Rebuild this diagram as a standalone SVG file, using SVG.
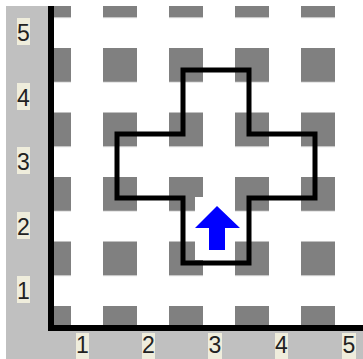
<svg xmlns="http://www.w3.org/2000/svg" width="363" height="359" viewBox="0 0 363 359">
<style>
.sq{fill:#808080}
.lbl{fill:#EFEDDC}
.t{font-family:"Liberation Sans",Arial,sans-serif;font-size:23px;fill:#222;text-anchor:middle}
.ax{stroke:#000;stroke-width:6;fill:none}
</style>
<defs>
<clipPath id="c"><rect x="51" y="6" width="312" height="322"/></clipPath>
<pattern id="p" x="37" y="-16.5" width="66" height="64.5" patternUnits="userSpaceOnUse">
<rect class="sq" x="0" y="0" width="34" height="34"/>
</pattern>
</defs>
<rect width="363" height="359" fill="#FFFFFF"/>
<rect x="6" y="6" width="45" height="353" fill="#C0C0C0"/>
<rect x="6" y="328" width="357" height="31" fill="#C0C0C0"/>
<g id="grid" clip-path="url(#c)">
<rect x="51" y="6" width="312" height="322" fill="url(#p)"/>
</g>
<g id="arrow-bg"><rect x="195" y="197" width="40" height="63" fill="#FFFFFF"/></g>
<g id="axes">
<path class="ax" d="M51,6 V328 H363"/>
</g>
<g id="y-labels">
<rect class="lbl" x="17" y="18" width="13" height="27"/><text class="t" x="23.5" y="41">5</text>
<rect class="lbl" x="17" y="83" width="13" height="27"/><text class="t" x="23.5" y="106">4</text>
<rect class="lbl" x="17" y="147" width="13" height="27"/><text class="t" x="23.5" y="170">3</text>
<rect class="lbl" x="17" y="212" width="13" height="27"/><text class="t" x="23.5" y="235">2</text>
<rect class="lbl" x="17" y="276" width="13" height="27"/><text class="t" x="23.5" y="299">1</text>
</g>
<g id="x-labels">
<rect class="lbl" x="76" y="333" width="13" height="26"/><text class="t" x="82.5" y="353">1</text>
<rect class="lbl" x="142" y="333" width="13" height="26"/><text class="t" x="148.5" y="353">2</text>
<rect class="lbl" x="208" y="333" width="14" height="26"/><text class="t" x="215" y="353">3</text>
<rect class="lbl" x="275" y="333" width="13" height="26"/><text class="t" x="281.5" y="353">4</text>
<rect class="lbl" x="342" y="333" width="14" height="26"/><text class="t" x="349" y="353">5</text>
</g>
<g id="cross">
<path d="M183,70 H249 V134 H315 V198 H249 V263 H183 V198 H117 V134 H183 Z" fill="none" stroke="#000" stroke-width="5"/>
</g>
<g id="arrow">
<polygon points="217,206 240,228 225,228 225,250 209,250 209,228 195,228" fill="#0000FF"/>
</g>
</svg>
